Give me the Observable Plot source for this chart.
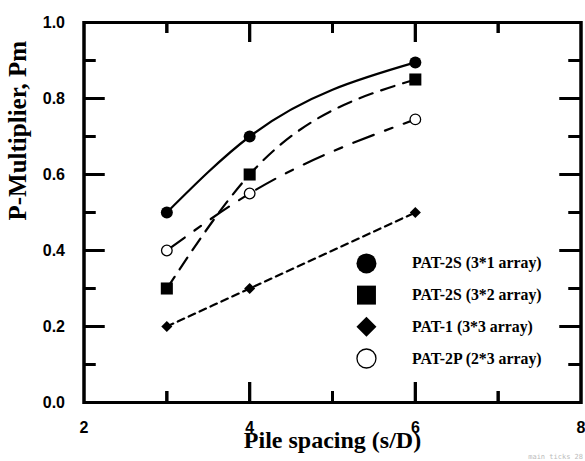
<!DOCTYPE html>
<html>
<head>
<meta charset="utf-8">
<script src="https://cdn.jsdelivr.net/npm/d3@7"></script>
<script src="https://cdn.jsdelivr.net/npm/@observablehq/plot@0.6"></script>
<style>
  html, body { margin: 0; padding: 0; background: #fff; }
  #wrap { position: relative; width: 585px; height: 461px; }
  #main, #layer { position: absolute; left: 0; top: 0; width: 585px; height: 461px; }
  #layer { pointer-events: none; }
  #main svg text { font-weight: bold; }
  #diag { position: absolute; right: 2px; bottom: 0; font: 7px monospace; color: #bbb; }
</style>
</head>
<body>
<div id="wrap"><div id="main"></div><div id="layer"></div><div id="diag"></div></div>
<script>
// ---- data ----
const spacing = [3, 4, 6];
const seriesNames = ["PAT-2S (3*1 array)", "PAT-2S (3*2 array)", "PAT-1 (3*3 array)", "PAT-2P (2*3 array)"];
const pat2s31 = [0.5, 0.7, 0.895];
const pat2s32 = [0.3, 0.6, 0.85];
const pat1_33 = [0.2, 0.3, 0.5];
const pat2p23 = [0.4, 0.55, 0.745];
const xTickLabels = [2, 4, 6, 8];
const yTickLabels = [0, 0.2, 0.4, 0.6, 0.8, 1.0];
const xMajorTicks = [4, 6];
const xMinorTicks = [3, 5, 7];
const yMajorTicks = [0.2, 0.4, 0.6, 0.8];
const yMinorTicks = [0.1, 0.3, 0.5, 0.7, 0.9];

(function () {
  const diag = [];
  const seriesValues = [pat2s31, pat2s32, pat1_33, pat2p23];
  const styles = [
    {symbol: "circle", fill: "black", stroke: "none", r: 6, dash: null, lr: 10},
    {symbol: "square", fill: "black", stroke: "none", r: 6.8, dash: "14,9", lr: 10.7},
    {symbol: "diamond2", fill: "black", stroke: "none", r: 5, dash: "7,5", lr: 9},
    {symbol: "circle", fill: "white", stroke: "black", r: 5.3, dash: "22,12,8,12", lr: 9.5}
  ];
  const rows = [];
  seriesNames.forEach((name, k) => {
    spacing.forEach((x, i) => rows.push({series: name, k, x, y: seriesValues[k][i]}));
  });

  // legend layout (data units inside the frame)
  const legendX = 5.41, legendTextX = 5.96, legendTop = 0.366, legendStep = 0.0834;
  const legendRows = seriesNames.map((name, k) => ({name, k, x: legendX, tx: legendTextX, y: legendTop - k * legendStep}));

  const xMin = 2, xMax = 8, yMin = 0, yMax = 1;
  const sans = "'Liberation Sans', Arial, sans-serif";
  const serifTitle = "'Liberation Serif', 'Times New Roman', serif";
  const dims = {width: 585, height: 461, marginLeft: 83.5, marginRight: 4.5, marginTop: 22, marginBottom: 59};
  const frameW = 585 - 83.5 - 4.5, frameH = 461 - 22 - 59;

  // inward ticks drawn as tick marks with large insets (pixel lengths)
  const tickMarks = [
    Plot.tickX(xMajorTicks, {x: d => d, insetTop: frameH - 20, stroke: "black", strokeWidth: 3}),
    Plot.tickX(xMinorTicks, {x: d => d, insetTop: frameH - 11, stroke: "black", strokeWidth: 3}),
    Plot.tickX(xMajorTicks, {x: d => d, insetBottom: frameH - 20, stroke: "black", strokeWidth: 3}),
    Plot.tickX(xMinorTicks, {x: d => d, insetBottom: frameH - 11, stroke: "black", strokeWidth: 3}),
    Plot.tickY(yMajorTicks, {y: d => d, insetRight: frameW - 21, stroke: "black", strokeWidth: 3}),
    Plot.tickY(yMinorTicks, {y: d => d, insetRight: frameW - 12, stroke: "black", strokeWidth: 3}),
    Plot.tickY(yMajorTicks, {y: d => d, insetLeft: frameW - 21, stroke: "black", strokeWidth: 3}),
    Plot.tickY(yMinorTicks, {y: d => d, insetLeft: frameW - 12, stroke: "black", strokeWidth: 3}),
    Plot.frame({stroke: "black", strokeWidth: 3})
  ];

  const marks = [];
  styles.forEach((s, k) => {
    marks.push(Plot.line(rows.filter(d => d.k === k), {
      x: "x", y: "y", curve: "monotone-x", stroke: "black", strokeWidth: 2.2, strokeDasharray: s.dash
    }));
  });
  styles.forEach((s, k) => {
    marks.push(Plot.dot(rows.filter(d => d.k === k), {
      x: "x", y: "y", symbol: () => s.symbol, r: s.r, fill: s.fill, stroke: s.stroke, strokeWidth: 1.3
    }));
  });
  styles.forEach((s, k) => {
    marks.push(Plot.dot(legendRows.filter(d => d.k === k), {
      x: "x", y: "y", symbol: () => s.symbol, r: s.lr, fill: s.fill, stroke: s.stroke, strokeWidth: 1.3
    }));
  });
  marks.push(Plot.text(legendRows, {
    x: "tx", y: "y", text: "name", textAnchor: "start",
    fontFamily: serifTitle, fontWeight: "bold", fontSize: 15.8, fill: "black"
  }));
  marks.push(Plot.axisX({ticks: xTickLabels, tickSize: 0, tickPadding: 19, label: null,
    fontFamily: sans, fontWeight: "bold", fontSize: 16, tickFormat: d3.format("d")}));
  marks.push(Plot.axisY({ticks: yTickLabels, tickSize: 0, tickPadding: 19, label: null,
    fontFamily: sans, fontWeight: "bold", fontSize: 16, tickFormat: d3.format(".1f")}));
  marks.push(Plot.text(["Pile spacing (s/D)"], {frameAnchor: "bottom", dy: 45, text: d => d,
    fontFamily: serifTitle, fontWeight: "bold", fontSize: 24, fill: "black"}));
  marks.push(Plot.text(["P-Multiplier, Pm"], {frameAnchor: "left", dx: -66.5, dy: 8, text: d => d, rotate: -90,
    fontFamily: serifTitle, fontWeight: "bold", fontSize: 25, fill: "black"}));

  try {
    const mainChart = Plot.plot({
      ...dims,
      x: {domain: [xMin, xMax]},
      y: {domain: [yMin, yMax]},
      style: {background: "white", color: "black", overflow: "visible", fontFamily: sans, fontSize: "16px"},
      marks: [...marks, ...tickMarks]
    });
    document.getElementById("main").appendChild(mainChart);
    const n = mainChart.querySelectorAll('g[aria-label="tick"] line').length;
    if (n !== 34) diag.push("main ticks " + n);
  } catch (e) { diag.push("main: " + e.message); }

  try {
    const layerChart = Plot.plot({
      ...dims,
      x: {domain: [xMin, xMax], axis: null},
      y: {domain: [yMin, yMax], axis: null},
      style: {background: "none", color: "black", overflow: "visible"},
      marks: tickMarks
    });
    document.getElementById("layer").appendChild(layerChart);
  } catch (e) { diag.push("layer: " + e.message); }

  document.getElementById("diag").textContent = diag.join("; ");
})();
</script>
</body>
</html>
